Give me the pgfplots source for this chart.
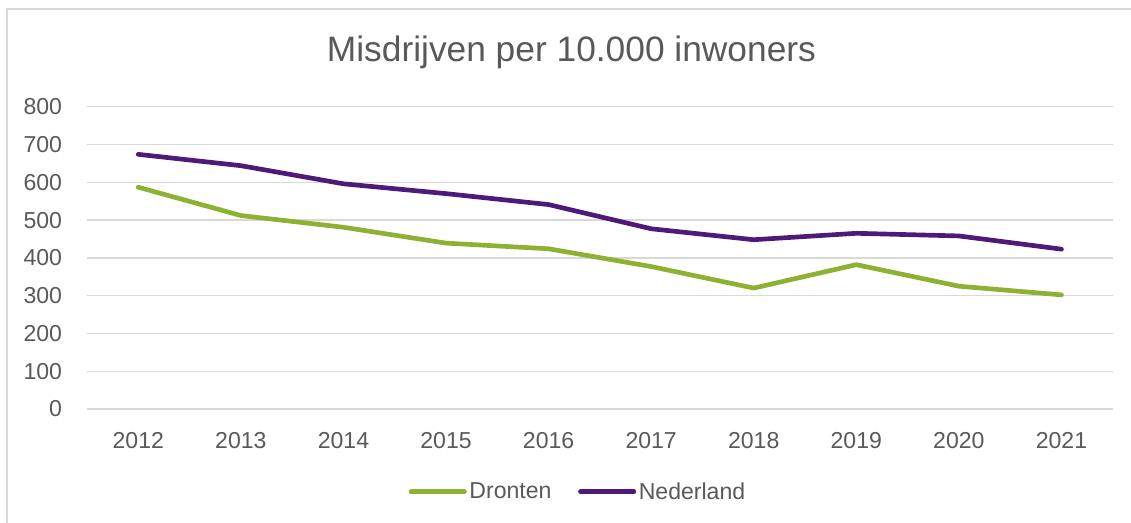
\documentclass[border=0pt]{standalone}
\usepackage{fontspec}
\setmainfont{Liberation Sans}
\usepackage{pgfplots}
\pgfplotsset{compat=1.18}
\definecolor{dgreen}{RGB}{140,178,50}
\definecolor{npurple}{RGB}{78,26,122}
\definecolor{gridgray}{RGB}{217,217,217}
\definecolor{txtgray}{RGB}{89,89,89}
\begin{document}
\begin{tikzpicture}
\useasboundingbox (0,0) rectangle (848.25pt,392.25pt);
\draw[gridgray, line width=1pt] (5.25pt,-2pt) -- (5.25pt,385.5pt) -- (850pt,385.5pt);
\node[anchor=base, text=txtgray, inner sep=0pt, font=\fontsize{26.5}{30}\selectfont] at (428.6pt,346pt) {Misdrijven per 10.000 inwoners};
\begin{axis}[
  at={(65.25pt,85.5pt)}, anchor=south west,
  scale only axis, width=769.3pt, height=226.7pt,
  xmin=-0.5, xmax=9.5, ymin=0, ymax=800,
  xtick={0,...,9},
  xticklabels={2012,2013,2014,2015,2016,2017,2018,2019,2020,2021},
  ytick={0,100,...,800},
  /pgf/number format/assume math mode=true,
  /pgf/number format/1000 sep={},
  ymajorgrids, grid style={gridgray, line width=1pt},
  axis line style={draw=none},
  axis x line*=bottom,
  major tick length=0pt,
  tick label style={text=txtgray, font=\fontsize{17.3}{20}\selectfont, inner sep=0pt},
  xticklabel shift=17pt,
  yticklabel shift=18.5pt,
  legend columns=2,
  legend style={at={(0.479,-0.274)}, anchor=center, draw=none, fill=none,
    font=\fontsize{17.3}{20}\selectfont, text=txtgray,
    /tikz/every even column/.append style={column sep=18pt},
    nodes={inner sep=2pt}},
  legend image code/.code={\draw[#1, line width=3.5pt, line cap=round] (0pt,0pt) -- (40pt,0pt);},
  clip=false,
]
\draw[gridgray, line width=1pt] (axis cs:-0.5,0) -- (axis cs:9.5,0);
\addplot[dgreen, line width=3.5pt, line cap=round, line join=round] coordinates {
(0,587) (1,512) (2,481) (3,439) (4,424) (5,377) (6,320) (7,382) (8,325) (9,302)};
\addlegendentry{Dronten}
\addplot[npurple, line width=3.5pt, line cap=round, line join=round] coordinates {
(0,674) (1,644) (2,596) (3,570) (4,541) (5,477) (6,448) (7,465) (8,458) (9,423)};
\addlegendentry{Nederland}
\end{axis}
\end{tikzpicture}
\end{document}
